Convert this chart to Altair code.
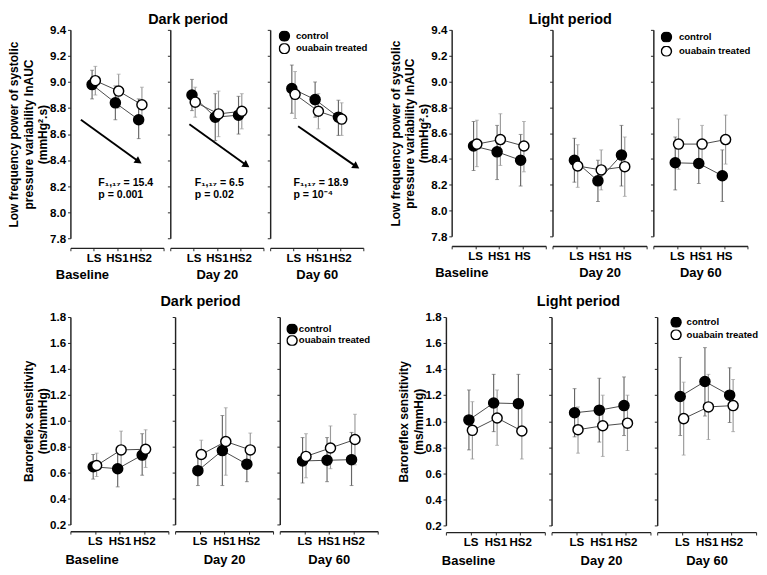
import altair as alt
import pandas as pd

FONT = "Liberation Sans"
AX = "#222222"

periods = ["Baseline", "Day 20", "Day 60"]
groups = ["control", "ouabain treated"]
cats_lf_dark = ["LS", "HS1", "HS2"]
cats_lf_light = ["LS", "HS1", "HS"]
cats_brs = ["LS", "HS1", "HS2"]

# Low frequency power of SBP, dark period  [period][LS, HS1, HS2]
lfd_ctrl_mean = [[8.98, 8.84, 8.71], [8.90, 8.73, 8.745], [8.95, 8.865, 8.73]]
lfd_ctrl_lo = [[8.87, 8.71, 8.565], [8.78, 8.55, 8.60], [8.76, 8.73, 8.59]]
lfd_ctrl_hi = [[9.09, 8.97, 8.87], [9.02, 8.91, 8.89], [9.13, 9.00, 8.86]]
lfd_oua_mean = [[9.01, 8.93, 8.825], [8.845, 8.755, 8.775], [8.905, 8.775, 8.715]]
lfd_oua_lo = [[8.90, 8.80, 8.68], [8.73, 8.58, 8.64], [8.72, 8.64, 8.59]]
lfd_oua_hi = [[9.12, 9.06, 8.96], [8.96, 8.93, 8.91], [9.08, 8.91, 8.84]]

# Low frequency power of SBP, light period
lfl_ctrl_mean = [[8.50, 8.455, 8.39], [8.39, 8.23, 8.43], [8.37, 8.365, 8.27]]
lfl_ctrl_lo = [[8.31, 8.24, 8.19], [8.22, 8.07, 8.19], [8.16, 8.21, 8.07]]
lfl_ctrl_hi = [[8.69, 8.66, 8.59], [8.56, 8.39, 8.66], [8.57, 8.53, 8.47]]
lfl_oua_mean = [[8.515, 8.55, 8.50], [8.345, 8.315, 8.34], [8.515, 8.515, 8.55]]
lfl_oua_lo = [[8.34, 8.35, 8.30], [8.18, 8.16, 8.11], [8.32, 8.36, 8.36]]
lfl_oua_hi = [[8.70, 8.75, 8.69], [8.51, 8.47, 8.57], [8.71, 8.66, 8.74]]

# Baroreflex sensitivity, dark period
brd_ctrl_mean = [[0.645, 0.63, 0.735], [0.615, 0.77, 0.665], [0.69, 0.695, 0.70]]
brd_ctrl_lo = [[0.55, 0.49, 0.58], [0.50, 0.50, 0.53], [0.52, 0.53, 0.50]]
brd_ctrl_hi = [[0.74, 0.78, 0.90], [0.73, 1.04, 0.79], [0.87, 0.87, 0.91]]
brd_oua_mean = [[0.655, 0.775, 0.78], [0.74, 0.84, 0.775], [0.725, 0.79, 0.855]]
brd_oua_lo = [[0.57, 0.63, 0.64], [0.63, 0.58, 0.66], [0.56, 0.63, 0.66]]
brd_oua_hi = [[0.75, 0.92, 0.93], [0.85, 1.10, 0.905], [0.90, 0.96, 1.05]]

# Baroreflex sensitivity, light period
brl_ctrl_mean = [[1.01, 1.14, 1.135], [1.065, 1.085, 1.12], [1.19, 1.305, 1.20]]
brl_ctrl_lo = [[0.78, 0.92, 0.92], [0.88, 0.84, 0.89], [0.89, 1.04, 0.99]]
brl_ctrl_hi = [[1.24, 1.36, 1.36], [1.25, 1.33, 1.34], [1.49, 1.565, 1.41]]
brl_oua_mean = [[0.93, 1.025, 0.925], [0.935, 0.965, 0.985], [1.02, 1.11, 1.12]]
brl_oua_lo = [[0.71, 0.815, 0.71], [0.755, 0.73, 0.775], [0.74, 0.86, 0.92]]
brl_oua_hi = [[1.15, 1.24, 1.14], [1.11, 1.20, 1.20], [1.30, 1.36, 1.32]]

# Annotations of the dark-period LF panels
ann_f = ["F\u2081,\u2081\u2087 = 15.4", "F\u2081,\u2081\u2087 = 6.5", "F\u2081,\u2081\u2087 = 18.9"]
ann_p = ["p = 0.001", "p = 0.02", "p = 10\u207b\u2074"]
ann_x = [1.2, 1.05, 1.0]
ann_f_y = [8.225, 8.225, 8.225]
ann_p_y = [8.13, 8.13, 8.13]
arrow_x1 = [0.45, 0.82, 1.2]
arrow_y1 = [8.71, 8.675, 8.66]
arrow_x2 = [2.93, 3.27, 3.7]
arrow_y2 = [8.39, 8.36, 8.35]

lf_ticks = [7.8, 8.0, 8.2, 8.4, 8.6, 8.8, 9.0, 9.2, 9.4]
brs_ticks = [0.2, 0.4, 0.6, 0.8, 1.0, 1.2, 1.4, 1.6, 1.8]
lf_title = ["Low frequency power of systolic", "pressure variability lnAUC", "(mmHg\u00b2.s)"]
brs_title = ["Baroreflex sensitivity", "(ms/mmHg)"]


def make_df(arrs, k):
    cm, cl, ch, om, ol, oh = arrs
    rows = []
    for i in range(3):
        rows.append(dict(group=groups[0], pos=i + 1, mean=cm[k][i], lo=cl[k][i], hi=ch[k][i]))
        rows.append(dict(group=groups[1], pos=i + 1, mean=om[k][i], lo=ol[k][i], hi=oh[k][i]))
    return pd.DataFrame(rows)


def panel(arrs, k, cats, ydom, yticks, ytitle, w, h, xoff, title_x, xtpad, leg, arrows=False):
    first = k == 0
    label_expr = " : ".join(f"datum.value == {i + 1} ? '{c}'" for i, c in enumerate(cats)) + " : ''"
    xax_kw = dict(values=[0, 1, 2, 3, 4], labelExpr=label_expr, title=periods[k], offset=xoff,
                  grid=False, labelOverlap=False, labelFlush=False, labelBound=False,
                  tickSize=3, tickColor=AX, tickWidth=1, domainColor=AX, domainWidth=1.5,
                  labelFont=FONT, labelFontSize=12, labelFontWeight="bold", labelColor="black",
                  labelPadding=2, titleFont=FONT, titleFontSize=13.5, titleFontWeight="bold",
                  titleColor="black", titlePadding=xtpad)
    if first:
        xax_kw["titleX"] = title_x
    xax = alt.Axis(**xax_kw)
    yax_kw = dict(values=yticks, format=".1f", grid=False, tickSize=3, tickColor=AX, tickWidth=1,
                  domainColor=AX, domainWidth=1.5, labelFont=FONT, labelFontSize=12,
                  labelFontWeight="bold", labelColor="black", labelPadding=2,
                  titleFont=FONT, titleFontSize=12.5, titleFontWeight="bold", titleColor="black",
                  titleLineHeight=15, titlePadding=0)
    if first:
        yax = alt.Axis(title=ytitle, labels=True, **yax_kw)
    else:
        yax = alt.Axis(title=None, labels=False, **yax_kw)
    xs = alt.Scale(domain=[0, 4], nice=False, zero=False, padding=0)
    ys = alt.Scale(domain=ydom, nice=False, zero=False, padding=0)

    def X(f):
        return alt.X(f"{f}:Q", scale=xs, axis=xax)

    def Y(f):
        return alt.Y(f"{f}:Q", scale=ys, axis=yax)

    df = make_df(arrs, k)
    base = alt.Chart(df).transform_calculate(
        xp="datum.group == 'control' ? datum.pos - 0.07 : datum.pos + 0.07")
    bar_col = alt.condition(alt.datum.group == "control", alt.value("#666666"), alt.value("#9a9a9a"))
    rules = base.mark_rule(strokeWidth=1.2).encode(x=X("xp"), y=Y("lo"), y2="hi", stroke=bar_col)
    cap_lo = base.mark_tick(orient="horizontal", size=4, thickness=1).encode(x=X("xp"), y=Y("lo"), color=bar_col)
    cap_hi = base.mark_tick(orient="horizontal", size=4, thickness=1).encode(x=X("xp"), y=Y("hi"), color=bar_col)
    lines = base.mark_line(color="#444444", strokeWidth=1).encode(x=X("xp"), y=Y("mean"), detail="group:N")
    if leg is not None:
        legend = alt.Legend(title=None, orient="none", legendX=leg[0], legendY=leg[1],
                            symbolType="circle", symbolSize=110, symbolStrokeColor="black",
                            symbolStrokeWidth=1.5, labelFont=FONT, labelFontSize=10,
                            labelFontWeight="bold", labelColor="black", rowPadding=leg[2],
                            clipHeight=11, labelOffset=leg[3], padding=0)
    else:
        legend = None
    points = base.mark_point(filled=True, size=110, stroke="black", strokeWidth=1.5, opacity=1).encode(
        x=X("xp"), y=Y("mean"),
        fill=alt.Fill("group:N", scale=alt.Scale(domain=groups, range=["black", "white"]), legend=legend))
    layers = [rules, cap_lo, cap_hi, lines, points]
    if arrows:
        adf = pd.DataFrame(dict(x1=[arrow_x1[k]], y1=[arrow_y1[k]], x2=[arrow_x2[k]], y2=[arrow_y2[k]]))
        layers.append(alt.Chart(adf).mark_rule(color="black", strokeWidth=2).encode(
            x=X("x1"), y=Y("y1"), x2="x2", y2="y2"))
        layers.append(alt.Chart(adf).mark_point(shape="triangle-right", filled=True, size=70,
                                                color="black", opacity=1, angle=34).encode(
            x=X("x2"), y=Y("y2")))
        tdf = pd.DataFrame(dict(x=[ann_x[k], ann_x[k]], y=[ann_f_y[k], ann_p_y[k]], t=[ann_f[k], ann_p[k]]))
        layers.append(alt.Chart(tdf).mark_text(align="left", baseline="middle", font=FONT, fontSize=11,
                                               fontWeight="bold", color="black").encode(
            x=X("x"), y=Y("y"), text="t:N"))
    return alt.layer(*layers).properties(width=w, height=h)


def group(title, arrs, cats, ydom, yticks, ytitle, w, h, xoff, title_x, xtpad, leg, toff, arrows=False):
    ps = [panel(arrs, k, cats, ydom, yticks, ytitle, w, h, xoff, title_x, xtpad,
                leg if k == 2 else None, arrows) for k in range(3)]
    return alt.hconcat(*ps, spacing=2, title=alt.TitleParams(
        text=title, font=FONT, fontSize=15, fontWeight="bold", anchor="middle", offset=toff, color="black")
    ).resolve_scale(fill="independent").resolve_legend(fill="independent")


lfd = (lfd_ctrl_mean, lfd_ctrl_lo, lfd_ctrl_hi, lfd_oua_mean, lfd_oua_lo, lfd_oua_hi)
lfl = (lfl_ctrl_mean, lfl_ctrl_lo, lfl_ctrl_hi, lfl_oua_mean, lfl_oua_lo, lfl_oua_hi)
brd = (brd_ctrl_mean, brd_ctrl_lo, brd_ctrl_hi, brd_oua_mean, brd_oua_lo, brd_oua_hi)
brl = (brl_ctrl_mean, brl_ctrl_lo, brl_ctrl_hi, brl_oua_mean, brl_oua_lo, brl_oua_hi)

# legend tuples: (legendX, legendY, rowPadding, labelOffset)
gA = group("Dark period", lfd, cats_lf_dark, [7.8, 9.4], lf_ticks, lf_title, 97, 217, 10, 12, 5,
           (8.8, 1, 2, 6), -3, arrows=True)
gB = group("Light period", lfl, cats_lf_light, [7.8, 9.4], lf_ticks, lf_title, 98, 215, 10, 10, 5,
           (7.6, 2, 3.7, 7), -3)
gC = group("Dark period", brd, cats_brs, [0.2, 1.8], brs_ticks, brs_title, 102, 216, 7, 22, 7,
           (6.8, 7, 1, 1), 2)
gD = group("Light period", brl, cats_brs, [0.2, 1.8], brs_ticks, brs_title, 103, 217, 7, 23, 7,
           (13.6, 0, 2, 5), 2)

row1 = alt.hconcat(gA, gB, spacing=22).resolve_scale(fill="independent").resolve_legend(fill="independent")
row2 = alt.hconcat(gC, gD, spacing=20).resolve_scale(fill="independent").resolve_legend(fill="independent")

chart = alt.concat(row1, row2, columns=1, align="none", spacing=14).resolve_scale(
    fill="independent").resolve_legend(fill="independent").properties(
    padding={"left": 0, "top": -7, "right": 0, "bottom": 0}, background="white"
).configure_view(strokeWidth=0)

chart.save("out.html", embed_options={"renderer": "svg", "actions": False})
